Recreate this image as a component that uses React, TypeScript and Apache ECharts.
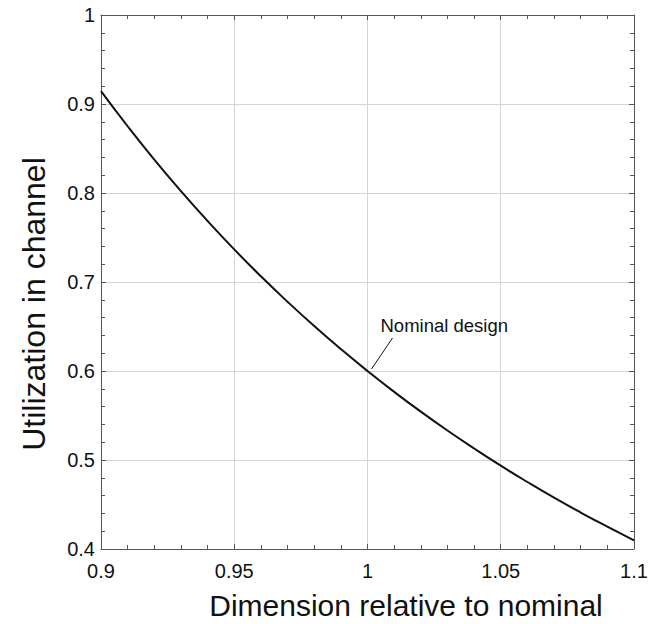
import React, { useEffect, useRef } from "react";
import * as echarts from "echarts";

const dimension = [0.9, 0.91, 0.92, 0.93, 0.94, 0.95, 0.96, 0.97, 0.98, 0.99, 1.0, 1.01, 1.02, 1.03, 1.04, 1.05, 1.06, 1.07, 1.08, 1.09, 1.1];
const utilization = [0.9145, 0.875, 0.8375, 0.8021, 0.7685, 0.7366, 0.7064, 0.6778, 0.6505, 0.6246, 0.6, 0.5766, 0.5543, 0.5331, 0.5129, 0.4936, 0.4753, 0.4577, 0.441, 0.4251, 0.4098];
const nominalPoint = [1.0, 0.6];
const annotationText = "Nominal design";
const xTitle = "Dimension relative to nominal";
const yTitle = "Utilization in channel";

const FONT = "Liberation Sans, Arial, Helvetica, sans-serif";

export default function App() {
  const ref = useRef<HTMLDivElement>(null);
  useEffect(() => {
    if (!ref.current) return;
    const chart = echarts.init(ref.current, null, { renderer: "svg" });
    const fmt = (v: number) => String(+v.toFixed(2));
    const axisCommon = {
      axisLine: { show: true, onZero: false, lineStyle: { color: "#555", width: 1 } },
      axisTick: { show: true, inside: true, length: 5, lineStyle: { color: "#555" } },
      minorTick: { show: true, splitNumber: 5, length: 4, lineStyle: { color: "#555" } },
    };
    const data = dimension.map((d, i) => [d, utilization[i]]);
    chart.setOption({
      animation: false,
      backgroundColor: "#fff",
      grid: { left: 101, top: 15, right: 23, bottom: 75, containLabel: false },
      xAxis: [
        {
          type: "value", min: 0.9, max: 1.1, interval: 0.05, position: "bottom",
          ...axisCommon,
          axisLabel: { formatter: fmt, color: "#111", fontSize: 20, fontFamily: FONT, margin: 12 },
          splitLine: { show: true, lineStyle: { color: "#d4d4d4", width: 1 } },
        },
        {
          type: "value", min: 0.9, max: 1.1, interval: 0.05, position: "top",
          ...axisCommon,
          axisLabel: { show: false },
          splitLine: { show: false },
        },
      ],
      yAxis: [
        {
          type: "value", min: 0.4, max: 1, interval: 0.1, position: "left",
          ...axisCommon,
          axisLabel: { formatter: fmt, color: "#111", fontSize: 20, fontFamily: FONT, margin: 6 },
          splitLine: { show: true, lineStyle: { color: "#d4d4d4", width: 1 } },
        },
        {
          type: "value", min: 0.4, max: 1, interval: 0.1, position: "right",
          ...axisCommon,
          axisLabel: { show: false },
          splitLine: { show: false },
        },
      ],
      series: [
        {
          type: "line",
          data,
          smooth: 0.5,
          showSymbol: false,
          symbol: "none",
          lineStyle: { color: "#111", width: 2 },
          xAxisIndex: 0,
          yAxisIndex: 0,
        },
      ],
    });
    const p = chart.convertToPixel({ xAxisIndex: 0, yAxisIndex: 0 }, nominalPoint) as number[];
    chart.setOption({
      graphic: [
        {
          type: "line",
          shape: { x1: p[0] + 4, y1: p[1] - 2, x2: p[0] + 25, y2: p[1] - 33 },
          style: { stroke: "#111", lineWidth: 1 },
        },
        {
          type: "text",
          x: p[0] + 13,
          y: p[1] - 46,
          style: { text: annotationText, fontSize: 18.5, fontFamily: FONT, fill: "#111", verticalAlign: "middle" },
        },
        {
          type: "text",
          x: 406,
          y: 605,
          style: { text: xTitle, fontSize: 30, fontFamily: FONT, fill: "#111", align: "center", verticalAlign: "middle" },
        },
        {
          type: "text",
          x: 34,
          y: 304,
          rotation: Math.PI / 2,
          style: { text: yTitle, fontSize: 32, fontFamily: FONT, fill: "#111", align: "center", verticalAlign: "middle" },
        },
      ],
    });
    return () => chart.dispose();
  }, []);
  return <div ref={ref} style={{ width: 657, height: 624, position: "absolute", left: 0, top: 0 }} />;
}
